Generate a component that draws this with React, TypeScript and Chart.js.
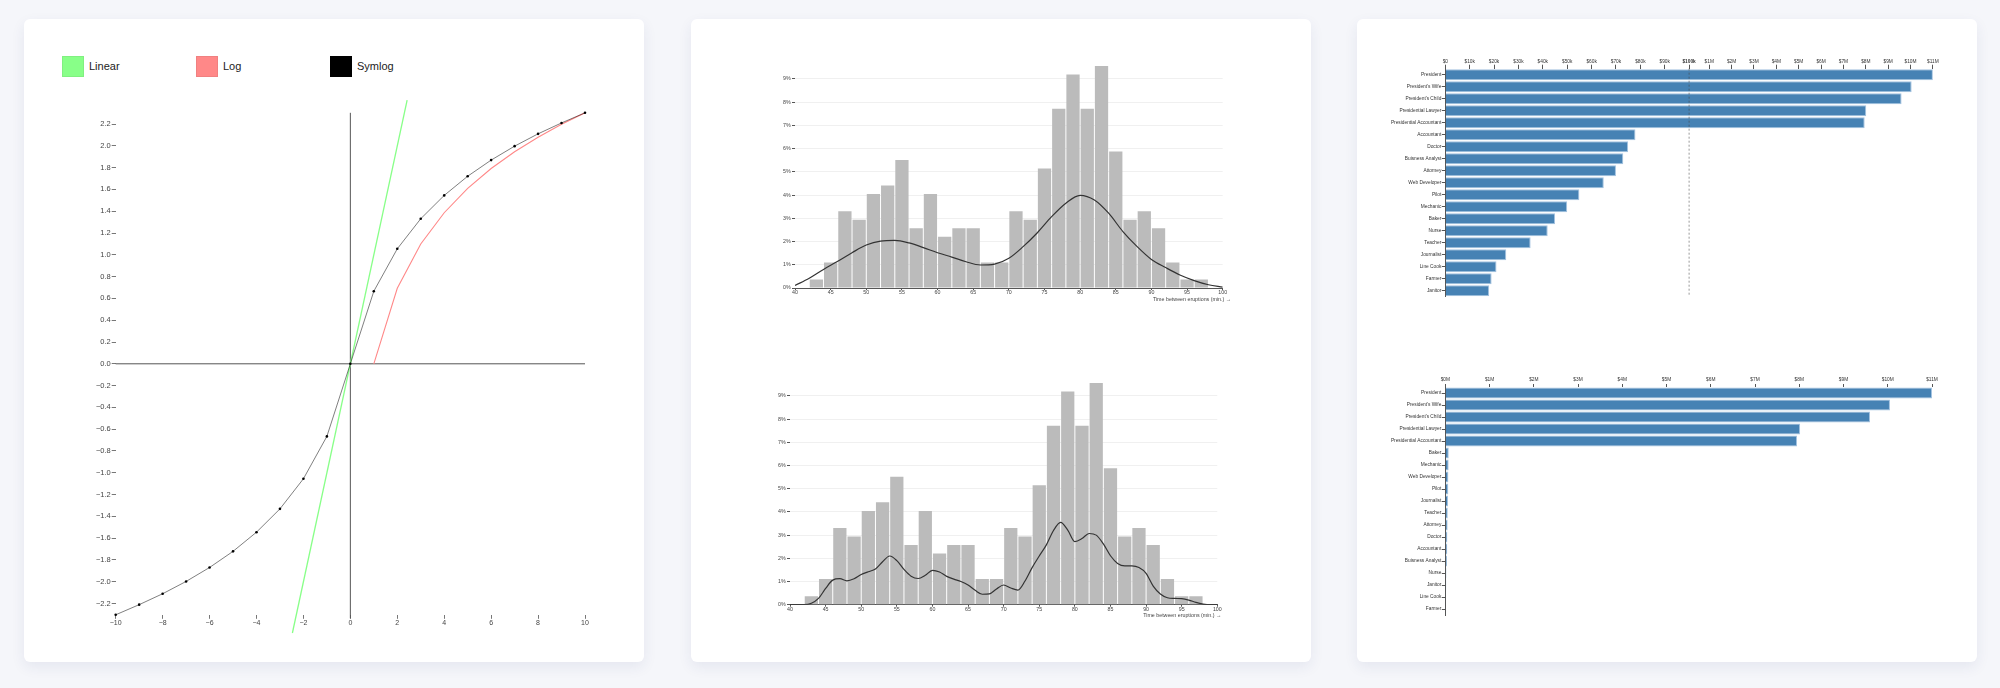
import React, { useEffect, useRef } from 'react';
import { Chart, registerables, LinearScale } from 'chart.js';

Chart.register(...registerables);

// ---------------- DATA ----------------
// Chart 1: scales comparison
const LIN_X = [-2.47, 2.42];
const LIN_Y = [-2.47, 2.42];
const LOG_X = [1, 2, 3, 4, 5, 6, 7, 8, 9, 10];
const LOG_Y = [0, 0.693, 1.099, 1.386, 1.609, 1.792, 1.946, 2.079, 2.197, 2.303];
const SYM_X = [-10, -9, -8, -7, -6, -5, -4, -3, -2, -1, 0, 1, 2, 3, 4, 5, 6, 7, 8, 9, 10];
const SYM_Y = [-2.303, -2.21, -2.11, -1.997, -1.869, -1.721, -1.545, -1.331, -1.055, -0.666, 0,
  0.666, 1.055, 1.331, 1.545, 1.721, 1.869, 1.997, 2.11, 2.21, 2.303];
const AXIS_V_Y = [-2.335, 2.303];
const AXIS_H_X = [-10, 10];
const X1_TICKS = [-10, -8, -6, -4, -2, 0, 2, 4, 6, 8, 10];
const Y1_TICKS = [-2.2, -2.0, -1.8, -1.6, -1.4, -1.2, -1.0, -0.8, -0.6, -0.4, -0.2, 0,
  0.2, 0.4, 0.6, 0.8, 1.0, 1.2, 1.4, 1.6, 1.8, 2.0, 2.2];
const LEGEND_LABELS = ['Linear', 'Log', 'Symlog'];
const LEGEND_COLORS = ['#88ff88', '#ff8888', '#000000'];

// Chart 2: histogram of waiting times (percent of eruptions per 2-min bin)
const HIST_CENTERS = [43, 45, 47, 49, 51, 53, 55, 57, 59, 61, 63, 65, 67, 69, 71, 73, 75, 77, 79, 81, 83, 85, 87, 89, 91, 93, 95, 97];
const HIST_PCT = [0.368, 1.103, 3.309, 2.941, 4.044, 4.412, 5.515, 2.574, 4.044, 2.206, 2.574, 2.574, 1.103, 1.103,
  3.309, 2.941, 5.147, 7.721, 9.191, 7.721, 9.559, 5.882, 2.941, 3.309, 2.574, 1.103, 0.368, 0.368];
const KDE1_X = [40, 42, 44, 46, 48, 50, 52, 54, 56, 58, 60, 62, 64, 66, 68, 70, 72, 74, 76, 78, 80, 82, 84, 86, 88, 90, 92, 94, 96, 98, 100];
const KDE1_Y = [0.11, 0.42, 0.8, 1.15, 1.52, 1.85, 2.02, 2.05, 1.94, 1.74, 1.52, 1.33, 1.13, 0.99, 1.03, 1.28, 1.78, 2.38, 3.07, 3.65, 3.99, 3.79, 3.22, 2.43, 1.78, 1.23, 0.88, 0.56, 0.32, 0.14, 0.04];
const KDE2_X = [40, 41, 42, 43, 44, 45, 46, 47, 48, 49, 50, 51, 52, 53, 54, 55, 56, 57, 58, 59, 60, 61, 62, 63, 64, 65, 66, 67, 68, 69, 70,
  71, 72, 73, 74, 75, 76, 77, 78, 79, 80, 81, 82, 83, 84, 85, 86, 87, 88, 89, 90, 91, 92, 93, 94, 95, 96, 97, 98, 99, 100];
const KDE2_Y = [0, 0, 0, 0.06, 0.27, 0.7, 1.06, 1.12, 1.03, 1.12, 1.3, 1.42, 1.54, 1.85, 2.1, 1.9, 1.52, 1.23, 1.13, 1.27, 1.48,
  1.41, 1.22, 1.1, 1.0, 0.85, 0.62, 0.45, 0.47, 0.68, 0.85, 0.72, 0.63, 1.02, 1.6, 2.1, 2.58, 3.2, 3.55, 3.22, 2.72,
  2.85, 3.07, 3.0, 2.62, 2.11, 1.78, 1.67, 1.67, 1.6, 1.35, 0.8, 0.46, 0.3, 0.27, 0.26, 0.2, 0.1, 0.03, 0, 0];
const X2_TICKS = [40, 45, 50, 55, 60, 65, 70, 75, 80, 85, 90, 95, 100];
const Y2_TICKS = [0, 1, 2, 3, 4, 5, 6, 7, 8, 9];
const HIST_TITLE = 'Time between eruptions (min.) →';

// Chart 3: salaries
const TOP_JOBS = ['President', "President's Wife", "President's Child", 'Presidential Lawyer', 'Presidential Accountant',
  'Accountant', 'Doctor', 'Buisness Analyst', 'Attorney', 'Web Developer', 'Pilot', 'Mechanic', 'Baker', 'Nurse',
  'Teacher', 'Journalist', 'Line Cook', 'Farmer', 'Janitor'];
const TOP_SALARY = [11000000, 10050000, 9600000, 8020000, 7950000, 78000, 75000, 73000, 70000, 65000, 55000, 50000,
  45000, 42000, 35000, 25000, 21000, 19000, 18000];
const BOTTOM_JOBS = ['President', "President's Wife", "President's Child", 'Presidential Lawyer', 'Presidential Accountant',
  'Baker', 'Mechanic', 'Web Developer', 'Pilot', 'Journalist', 'Teacher', 'Attorney', 'Doctor', 'Accountant',
  'Buisness Analyst', 'Nurse', 'Janitor', 'Line Cook', 'Farmer'];
const BOTTOM_SALARY = [11000000, 10050000, 9600000, 8020000, 7950000, 78000, 76000, 70000, 68000, 62000, 56000, 53000,
  47000, 45000, 38000, 25000, 22000, 16000, 14000];
const SALARY_BREAK = 100000;
const SALARY_MAX = 11000000;
const TOP_TICKS = [0, 10000, 20000, 30000, 40000, 50000, 60000, 70000, 80000, 90000, 100000,
  1000000, 2000000, 3000000, 4000000, 5000000, 6000000, 7000000, 8000000, 9000000, 10000000, 11000000];
const BOTTOM_TICKS = [0, 1000000, 2000000, 3000000, 4000000, 5000000, 6000000, 7000000, 8000000, 9000000, 10000000, 11000000];

// ---------------- SCALE: piecewise linear ----------------
class SplitLinearScale extends LinearScale {
  static id = 'splitLinear';
  getPixelForValue(value: any) {
    if (value === null || value === undefined || isNaN(value)) return NaN;
    const min = this.min;
    const max = this.max;
    const dec = value <= SALARY_BREAK
      ? ((value - min) / (SALARY_BREAK - min)) * 0.5
      : 0.5 + ((value - SALARY_BREAK) / (max - SALARY_BREAK)) * 0.5;
    return this.getPixelForDecimal(dec);
  }
  getValueForPixel(pixel: number) {
    const d = this.getDecimalForPixel(pixel);
    return d <= 0.5 ? this.min + d * 2 * (SALARY_BREAK - this.min) : SALARY_BREAK + (d - 0.5) * 2 * (this.max - SALARY_BREAK);
  }
}
Chart.register(SplitLinearScale as any);

const FONT = "'Liberation Sans', Arial, Helvetica, sans-serif";
Chart.defaults.font.family = FONT;

const fixWidth = (w: number) => (s: any) => { s.width = w; };
const fixHeight = (h: number) => (s: any) => { s.height = h; };
const setTicks = (vals: number[]) => (s: any) => { s.ticks = vals.map((v) => ({ value: v })); };
const signed = (s: string) => s.replace('-', '\u2212');

const fmtMoneyTop = (v: number) => {
  if (v === 0) return '$0';
  if (v <= SALARY_BREAK) return '$' + Math.round(v / 1000) + 'k';
  return '$' + Math.round(v / 1000000) + 'M';
};

function titlePlugin(text: string, dx: number, dy: number) {
  return {
    id: 'axisTitleRight',
    afterDraw(chart: any) {
      const { ctx, chartArea } = chart;
      ctx.save();
      ctx.font = `5.3px ${FONT}`;
      ctx.fillStyle = '#444';
      ctx.textAlign = 'right';
      ctx.textBaseline = 'middle';
      ctx.fillText(text, chartArea.right + dx, chartArea.bottom + dy);
      ctx.restore();
    },
  };
}

const breakLinePlugin = {
  id: 'breakLine',
  afterDatasetsDraw(chart: any) {
    const { ctx, chartArea } = chart;
    const x = chart.scales.x.getPixelForValue(SALARY_BREAK);
    ctx.save();
    ctx.strokeStyle = 'rgba(70,70,70,0.55)';
    ctx.lineWidth = 1;
    ctx.setLineDash([2, 2]);
    ctx.beginPath();
    ctx.moveTo(x, chartArea.top);
    ctx.lineTo(x, chartArea.bottom);
    ctx.stroke();
    ctx.restore();
  },
};

const common = {
  responsive: false,
  animation: false as const,
  devicePixelRatio: 1,
  events: [] as any[],
};

function makeScaleChart(canvas: HTMLCanvasElement) {
  return new Chart(canvas, {
    type: 'line',
    data: {
      datasets: [
        {
          label: 'Symlog',
          data: SYM_X.map((x, i) => ({ x, y: SYM_Y[i] })),
          borderColor: 'rgba(0,0,0,0.5)',
          borderWidth: 1,
          pointRadius: 1.3,
          pointBackgroundColor: '#000',
          pointBorderWidth: 0,
          clip: false as any,
        },
        {
          label: 'Log',
          data: LOG_X.map((x, i) => ({ x, y: LOG_Y[i] })),
          borderColor: '#ff8888',
          borderWidth: 1.1,
          pointRadius: 0,
        },
        {
          label: 'Linear',
          data: LIN_X.map((x, i) => ({ x, y: LIN_Y[i] })),
          borderColor: '#88ff88',
          borderWidth: 1.3,
          pointRadius: 0,
          clip: false as any,
        },
        {
          label: 'axisV',
          data: AXIS_V_Y.map((y) => ({ x: 0, y })),
          borderColor: '#555',
          borderWidth: 1,
          pointRadius: 0,
          clip: false as any,
        },
        {
          label: 'axisH',
          data: AXIS_H_X.map((x) => ({ x, y: 0 })),
          borderColor: '#555',
          borderWidth: 1,
          pointRadius: 0,
          clip: false as any,
        },
      ],
    },
    options: {
      ...common,
      layout: { padding: { left: 51.7, right: 59, top: 93.8, bottom: 32.2 } },
      plugins: { legend: { display: false }, tooltip: { enabled: false } },
      scales: {
        x: {
          type: 'linear', min: -10, max: 10,
          afterBuildTicks: setTicks(X1_TICKS), afterFit: fixHeight(15),
          grid: { drawOnChartArea: false, tickLength: 4, tickColor: '#777' },
          border: { display: false },
          ticks: { font: { size: 7, lineHeight: 1 }, color: '#444', padding: 1, maxRotation: 0, autoSkip: false,
            callback: (v: any) => signed(String(v)) },
        },
        y: {
          type: 'linear', min: -2.303, max: 2.303,
          afterBuildTicks: setTicks(Y1_TICKS), afterFit: fixWidth(40),
          grid: { drawOnChartArea: false, tickLength: 4, tickColor: '#777' },
          border: { display: false },
          ticks: { font: { size: 7.5, lineHeight: 1 }, color: '#444', padding: 1, autoSkip: false,
            callback: (v: any) => signed(Number(v).toFixed(1)) },
        },
      } as any,
    },
  } as any);
}

function makeHistChart(canvas: HTMLCanvasElement, kx: number[], ky: number[], padding: any, dx: number) {
  return new Chart(canvas, {
    type: 'bar',
    data: {
      datasets: [
        {
          type: 'line',
          label: 'kde',
          data: kx.map((x, i) => ({ x, y: ky[i] })),
          borderColor: '#333',
          borderWidth: 1.2,
          pointRadius: 0,
          cubicInterpolationMode: 'monotone',
          order: 0,
        },
        {
          type: 'bar',
          label: 'hist',
          data: HIST_CENTERS.map((x, i) => ({ x, y: HIST_PCT[i] })),
          backgroundColor: '#bbbbbb',
          borderWidth: 0,
          barPercentage: 0.93,
          categoryPercentage: 1,
          order: 1,
        },
      ],
    },
    options: {
      ...common,
      layout: { padding },
      plugins: { legend: { display: false }, tooltip: { enabled: false } },
      scales: {
        x: {
          type: 'linear', min: 40, max: 100, offset: false,
          afterBuildTicks: setTicks(X2_TICKS), afterFit: fixHeight(10),
          grid: { offset: false, drawOnChartArea: false, tickLength: 2, tickColor: '#555' },
          border: { display: true, color: '#555', width: 1 },
          ticks: { font: { size: 5.3, lineHeight: 1 }, color: '#444', padding: 0, maxRotation: 0, autoSkip: false },
        },
        y: {
          type: 'linear', min: 0, max: Math.max(...HIST_PCT),
          afterBuildTicks: setTicks(Y2_TICKS), afterFit: fixWidth(30),
          grid: { color: '#f0f0f0', tickColor: '#555', tickLength: 3, lineWidth: 1 },
          border: { display: false },
          ticks: { font: { size: 5.3, lineHeight: 1 }, color: '#444', padding: 1.3, autoSkip: false,
            callback: (v: any) => v + '%' },
        },
      } as any,
    },
    plugins: [titlePlugin(HIST_TITLE, dx, 11.3)],
  } as any);
}

function makeSalaryChart(canvas: HTMLCanvasElement, jobs: string[], values: number[], split: boolean, padding: any) {
  return new Chart(canvas, {
    type: 'bar',
    data: {
      labels: jobs,
      datasets: [
        {
          data: values,
          backgroundColor: '#4682b4',
          borderColor: '#a3c2e0',
          borderWidth: 1,
          barPercentage: 0.92,
          categoryPercentage: 1,
        },
      ],
    },
    options: {
      ...common,
      indexAxis: 'y',
      layout: { padding },
      plugins: { legend: { display: false }, tooltip: { enabled: false } },
      scales: {
        x: {
          type: split ? 'splitLinear' : 'linear', position: 'top', min: 0, max: SALARY_MAX,
          afterBuildTicks: setTicks(split ? TOP_TICKS : BOTTOM_TICKS), afterFit: fixHeight(10),
          grid: { drawOnChartArea: false, tickLength: split ? 4 : 3, tickColor: '#555' },
          border: { display: false },
          ticks: {
            font: (ctx: any) => ({ size: 4.8, lineHeight: 1,
              weight: split && ctx.tick && ctx.tick.value === SALARY_BREAK ? 'bold' : 'normal' }),
            color: '#333', padding: split ? 0.3 : 1.6, maxRotation: 0, autoSkip: false,
            callback: (v: any) => (split ? fmtMoneyTop(Number(v)) : '$' + Math.round(Number(v) / 1000000) + 'M'),
          },
        },
        y: {
          type: 'category', offset: true,
          afterFit: fixWidth(80),
          grid: { offset: false, drawOnChartArea: false, tickLength: 3.5, tickColor: '#555' },
          border: { display: true, color: '#555', width: 1 },
          ticks: { font: { size: 4.8, lineHeight: 1 }, color: '#333', padding: 0.5, autoSkip: false },
        },
      } as any,
    },
    plugins: split ? [breakLinePlugin] : [],
  } as any);
}

const CARD_LEFTS = [24, 691, 1357];

export default function App() {
  const c1 = useRef<HTMLCanvasElement>(null);
  const c2 = useRef<HTMLCanvasElement>(null);
  const c3 = useRef<HTMLCanvasElement>(null);
  const c4 = useRef<HTMLCanvasElement>(null);
  const c5 = useRef<HTMLCanvasElement>(null);

  useEffect(() => {
    const charts: Chart[] = [];
    if (c1.current) charts.push(makeScaleChart(c1.current));
    if (c2.current) charts.push(makeHistChart(c2.current, KDE1_X, KDE1_Y, { left: 74, right: 88.3, top: 47, bottom: 42 }, 8.3));
    if (c3.current) charts.push(makeHistChart(c3.current, KDE2_X, KDE2_Y, { left: 69, right: 93.7, top: 43, bottom: 47.3 }, 4));
    if (c4.current) charts.push(makeSalaryChart(c4.current, TOP_JOBS, TOP_SALARY, true, { left: 8.3, right: 44.1, top: 39.7, bottom: 43.3 }));
    if (c5.current) charts.push(makeSalaryChart(c5.current, BOTTOM_JOBS, BOTTOM_SALARY, false, { left: 8.3, right: 45, top: 37, bottom: 47 }));
    return () => charts.forEach((c) => c.destroy());
  }, []);

  const canvasStyle = (left: number, top: number, w: number, h: number): React.CSSProperties => ({
    position: 'absolute', left, top, width: w, height: h,
  });

  return (
    <div style={{ position: 'absolute', left: 0, top: 0, width: 2000, height: 688, background: '#f5f6fa', overflow: 'hidden', fontFamily: FONT }}>
      {CARD_LEFTS.map((l) => (
        <div key={l} style={{ position: 'absolute', left: l, top: 19, width: 620, height: 643, background: '#fff', borderRadius: 6,
          boxShadow: '0 5px 14px rgba(40,50,110,0.08)' }} />
      ))}
      {LEGEND_LABELS.map((lab, i) => (
        <React.Fragment key={lab}>
          <div style={{ position: 'absolute', left: 62 + i * 134, top: 56, width: 22, height: 21, background: LEGEND_COLORS[i],
            boxSizing: 'border-box', border: '1px solid rgba(0,0,0,0.06)' }} />
          <div style={{ position: 'absolute', left: 89 + i * 134, top: 56, height: 21, lineHeight: '21px', fontSize: 11, color: '#222' }}>{lab}</div>
        </React.Fragment>
      ))}
      <canvas ref={c1} width={620} height={643} style={canvasStyle(24, 19, 620, 643)} />
      <canvas ref={c2} width={620} height={321} style={canvasStyle(691, 19, 620, 321)} />
      <canvas ref={c3} width={620} height={322} style={canvasStyle(691, 340, 620, 322)} />
      <canvas ref={c4} width={620} height={321} style={canvasStyle(1357, 19, 620, 321)} />
      <canvas ref={c5} width={620} height={322} style={canvasStyle(1357, 340, 620, 322)} />
    </div>
  );
}
